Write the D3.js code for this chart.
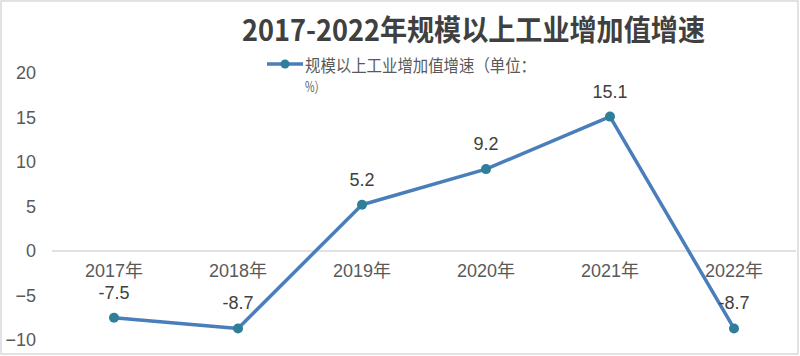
<!DOCTYPE html>
<html><head><meta charset="utf-8">
<script src="https://cdn.jsdelivr.net/npm/d3@7"></script>
<style>body{margin:0;background:#fff}svg{display:block}</style>
</head><body>
<svg id="c" width="800" height="356"></svg>
<script>
const categories = ["2017年","2018年","2019年","2020年","2021年","2022年"];
const values = [-7.5, -8.7, 5.2, 9.2, 15.1, -8.7];
const yTicks = [20, 15, 10, 5, 0, -5, -10];
const title = "2017-2022年规模以上工业增加值增速";
const legendLines = ["规模以上工业增加值增速（单位：", "%）"];

const svg = d3.select("#c");
const font = "'Liberation Sans','Noto Sans CJK SC',sans-serif";
const cjk = "'Noto Sans CJK SC','Liberation Sans',sans-serif";

svg.append("rect").attr("x",1).attr("y",1).attr("width",797).attr("height",353)
  .attr("fill","#fff").attr("stroke","#d9d9d9").attr("stroke-width",1.5);

const x = d3.scaleBand().domain(categories).range([52, 796]);
const y = d3.scaleLinear().domain([-10, 20]).range([340, 73]);

// zero line
svg.append("line").attr("x1",52).attr("x2",796).attr("y1",y(0)).attr("y2",y(0))
  .attr("stroke","#d9d9d9").attr("stroke-width",1.5);

// y axis labels
const yAxis = d3.axisLeft(y).tickValues(yTicks).tickSize(0).tickPadding(0);
const gy = svg.append("g").attr("transform","translate(36,0)").call(yAxis);
gy.select(".domain").remove();
gy.selectAll("text").attr("font-family",font).attr("font-size",18).attr("fill","#595959");

// x axis labels
const xAxis = d3.axisBottom(x).tickSize(0).tickPadding(0);
const gx = svg.append("g").attr("transform",`translate(0,${y(0)+20})`).call(xAxis);
gx.select(".domain").remove();
gx.selectAll("text").attr("font-family",font).attr("font-size",18).attr("fill","#595959").attr("dy","0.35em");

// line
const cx = d => x(d.c) + x.bandwidth()/2;
const data = categories.map((c,i)=>({c, v: values[i]}));
svg.append("path").datum(data)
  .attr("d", d3.line().x(cx).y(d=>y(d.v)))
  .attr("fill","none").attr("stroke","#4a7ebb").attr("stroke-width",3.5).attr("stroke-linejoin","round");
svg.selectAll("circle.pt").data(data).enter().append("circle").attr("class","pt")
  .attr("cx",cx).attr("cy",d=>y(d.v)).attr("r",5).attr("fill","#2f7f9a");

// data labels
svg.selectAll("text.lbl").data(data).enter().append("text").attr("class","lbl")
  .attr("x",cx).attr("y",d=>y(d.v)-19).attr("text-anchor","middle")
  .attr("font-family",font).attr("font-size",18).attr("fill","#404040")
  .text(d=>d.v);

// title
svg.append("text").attr("x",242).attr("y",41).attr("font-family",cjk).attr("font-weight","bold")
  .attr("font-size",29).attr("fill","#404040").attr("textLength",463).attr("lengthAdjust","spacingAndGlyphs")
  .text(title);

// legend
svg.append("line").attr("x1",267).attr("x2",303).attr("y1",64).attr("y2",64)
  .attr("stroke","#4a7ebb").attr("stroke-width",3.5);
svg.append("circle").attr("cx",285).attr("cy",64).attr("r",4.5).attr("fill","#2f7f9a");
svg.append("text").attr("x",305).attr("y",72).attr("font-family",cjk).attr("font-size",17)
  .attr("fill","#595959").attr("textLength",231).attr("lengthAdjust","spacingAndGlyphs").text(legendLines[0]);
svg.append("text").attr("x",305).attr("y",92).attr("font-family",cjk).attr("font-size",14)
  .attr("fill","#595959").attr("textLength",20).attr("lengthAdjust","spacingAndGlyphs").text(legendLines[1]);
</script>
</body></html>
